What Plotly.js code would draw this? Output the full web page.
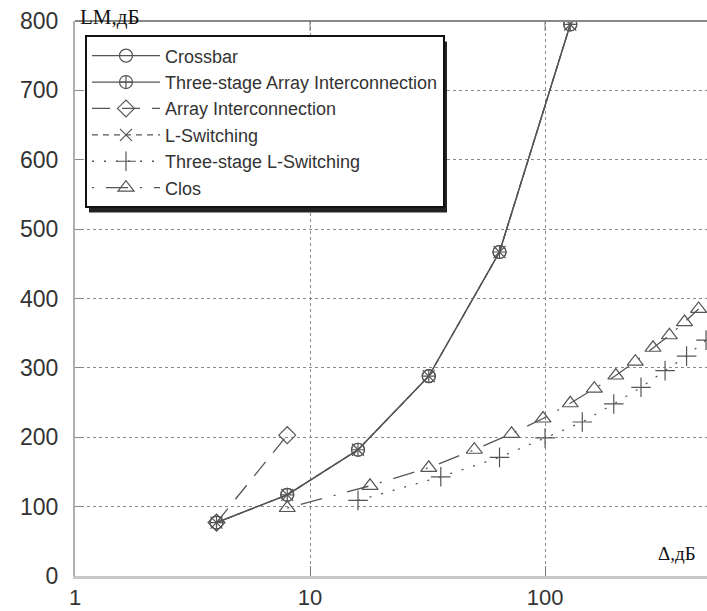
<!DOCTYPE html>
<html>
<head>
<meta charset="utf-8">
<script src="https://cdn.plot.ly/plotly-3.0.1.min.js"></script>
<style>html,body{margin:0;padding:0;background:#fff;}</style>
</head>
<body>
<div id="chart" style="width:707px;height:611px;"></div>
<script>
// ---- data ----
const seriesNames = ["Crossbar", "Three-stage Array Interconnection", "Array Interconnection", "L-Switching", "Three-stage L-Switching", "Clos"];
const crossbarX = [4, 8, 16, 32, 64, 128];
const crossbarY = [77, 117, 182, 288, 467, 795];
const threeStageArrayX = [4, 8, 16, 32, 64, 128];
const threeStageArrayY = [77, 117, 182, 288, 467, 795];
const arrayX = [4, 8];
const arrayY = [77, 203];
const lSwitchingX = [4, 8, 16, 32, 64, 128];
const lSwitchingY = [77, 117, 182, 288, 467, 795];
const threeStageLX = [16, 36, 64, 100, 144, 196, 256, 324, 400, 484];
const threeStageLY = [109, 143, 171, 199, 222, 248, 272, 296, 317, 340];
const closX = [8, 18, 32, 50, 72, 98, 128, 162, 200, 242, 288, 338, 392, 450];
const closY = [98, 130, 156, 182, 205, 227, 249, 270, 289, 309, 329, 347, 366, 385];
const xTickVals = [1, 10, 100];
const xTickText = ["1", "10", "100"];
const yTickVals = [0, 100, 200, 300, 400, 500, 600, 700, 800];
const yLabel = "LM,дБ";
const xLabel = "Δ,дБ";

const ink = "#555";
function tr(i, x, y, symbol, dash, size) {
  return {
    type: "scatter", mode: "lines+markers", name: seriesNames[i], x: x, y: y,
    line: {color: ink, width: 1.3, dash: dash},
    marker: {symbol: symbol, size: size, color: ink, line: {color: ink, width: 1.2}}
  };
}
const data = [
  tr(0, crossbarX, crossbarY, "circle-open", "solid", 13),
  tr(1, threeStageArrayX, threeStageArrayY, "circle-cross-open", "solid", 13),
  tr(2, arrayX, arrayY, "diamond-open", "18px,12px", 13),
  tr(3, lSwitchingX, lSwitchingY, "x-thin-open", "6px,5px", 12),
  tr(4, threeStageLX, threeStageLY, "cross-thin-open", "2px,10px", 14),
  tr(5, closX, closY, "triangle-up-open", "2px,12px,22px,12px", 14)
];

const layout = {
  width: 707, height: 611,
  margin: {l: 75, r: 0, t: 21, b: 35},
  paper_bgcolor: "#fff", plot_bgcolor: "#fff",
  font: {family: "Arial, 'Liberation Sans', sans-serif", color: "#333"},
  showlegend: true,
  xaxis: {
    type: "log", range: [0, 2.689], tickvals: xTickVals, ticktext: xTickText,
    showgrid: true, gridcolor: "#8a8a8a", griddash: "dot", gridwidth: 1,
    ticks: "inside", ticklen: 10, tickcolor: "#777", tickwidth: 1,
    showline: true, linecolor: "#c8c8c8", linewidth: 3, mirror: false,
    zeroline: false, tickfont: {size: 22, color: "#333"}, ticklabelstandoff: 0
  },
  yaxis: {
    range: [0, 800], tickvals: yTickVals,
    showgrid: true, gridcolor: "#8a8a8a", griddash: "dot", gridwidth: 1,
    ticks: "inside", ticklen: 8, tickcolor: "#888", tickwidth: 1,
    showline: true, linecolor: "#b0b0b0", linewidth: 2,
    zeroline: false, tickfont: {size: 23, color: "#333"}, ticklabelstandoff: 10
  },
  legend: {
    x: 0.0158, y: 0.974, xanchor: "left", yanchor: "top",
    bgcolor: "#fff", bordercolor: "#111", borderwidth: 2,
    font: {size: 18, color: "#333", family: "Arial, 'Liberation Sans', sans-serif"},
    itemwidth: 68, tracegroupgap: 0
  },
  shapes: [
    {type: "line", xref: "paper", yref: "paper", x0: 0, x1: 1, y0: 1, y1: 1,
     line: {color: "#888", width: 2}, layer: "above"},
    {type: "line", xref: "x", yref: "paper", x0: 10, x1: 10, y0: 1, y1: 0.982,
     line: {color: "#777", width: 1}, layer: "above"},
    {type: "line", xref: "x", yref: "paper", x0: 100, x1: 100, y0: 1, y1: 0.982,
     line: {color: "#777", width: 1}, layer: "above"}
  ],
  annotations: [
    {text: yLabel, xref: "paper", yref: "paper", x: 0.005, y: 1.0, xanchor: "left", yanchor: "middle",
     yshift: 4, showarrow: false, font: {family: "'Liberation Serif', 'Times New Roman', serif", size: 21, color: "#111"}},
    {text: xLabel, xref: "paper", yref: "paper", x: 0.985, y: 0.04, xanchor: "right", yanchor: "middle",
     showarrow: false, font: {family: "'Liberation Serif', 'Times New Roman', serif", size: 19, color: "#111"}}
  ]
};

Plotly.newPlot("chart", data, layout, {displayModeBar: false, staticPlot: true}).then(function(gd) {
  // drop shadow behind legend box
  const bg = gd.querySelector(".legend .bg");
  if (!bg) return;
  const r = bg.getBoundingClientRect();
  const c = gd.getBoundingClientRect();
  const fs = gd._fullLayout._size;
  const toPX = px => (px - c.left - fs.l) / fs.w;
  const toPY = py => 1 - (py - c.top - fs.t) / fs.h;
  const dx = 3, dy = 5;
  const shapes = layout.shapes.slice();
  shapes.push({type: "rect", xref: "paper", yref: "paper",
    x0: toPX(r.left + dx), x1: toPX(r.right + dx), y0: toPY(r.bottom + dy), y1: toPY(r.top + dy),
    fillcolor: "#222", line: {width: 0}, layer: "above"});
  Plotly.relayout(gd, {shapes: shapes});
});
</script>
</body>
</html>
